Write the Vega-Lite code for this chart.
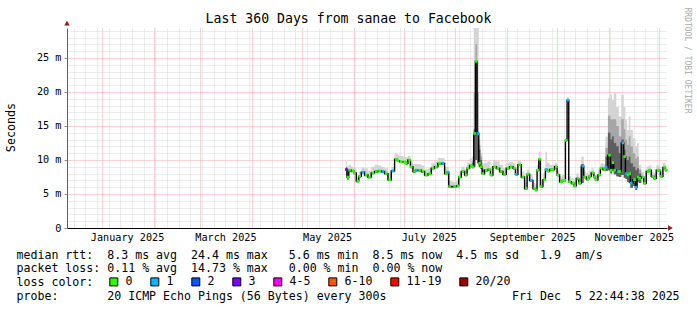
{
  "$schema": "https://vega.github.io/schema/vega-lite/v6.json",
  "width": 600,
  "height": 200,
  "autosize": "none",
  "padding": {"left": 67, "top": 28, "right": 30, "bottom": 82},
  "background": "white",
  "config": {"view": {"stroke": null}},
  "title": {"text": "Last 360 Days from sanae to Facebook", "font": "DejaVu Sans Mono", "fontSize": 13.2, "fontWeight": "normal", "color": "#000000", "anchor": "middle", "frame": "group", "dx": -18.5, "baseline": "alphabetic", "offset": -29},
  "datasets": {
    "ping": [
      {"date":"2025-05-27T12:00:00","median":8.6,"low":7.4,"dark":9.0,"high":9.8,"loss":"3"},
      {"date":"2025-05-28T12:00:00","median":7.5,"low":7.1,"dark":7.9,"high":9.0,"loss":"0"},
      {"date":"2025-05-29T12:00:00","median":8.5,"low":8.2,"dark":8.5,"high":9.3,"loss":"0"},
      {"date":"2025-05-31T12:00:00","median":8.4,"low":8.2,"dark":8.4,"high":9.0,"loss":"0"},
      {"date":"2025-06-01T12:00:00","median":8.1,"low":7.9,"dark":8.1,"high":8.8,"loss":"0"},
      {"date":"2025-06-03T12:00:00","median":6.9,"low":6.7,"dark":6.9,"high":7.6,"loss":"0"},
      {"date":"2025-06-04T12:00:00","median":7.6,"low":7.4,"dark":7.6,"high":8.3,"loss":"0"},
      {"date":"2025-06-06T12:00:00","median":8.2,"low":8.0,"dark":8.2,"high":8.9,"loss":"1"},
      {"date":"2025-06-08T12:00:00","median":7.8,"low":7.6,"dark":7.8,"high":8.8,"loss":"0"},
      {"date":"2025-06-10T12:00:00","median":7.5,"low":7.3,"dark":7.5,"high":8.4,"loss":"0"},
      {"date":"2025-06-12T12:00:00","median":8.1,"low":7.9,"dark":8.1,"high":9.0,"loss":"0"},
      {"date":"2025-06-14T12:00:00","median":8.3,"low":8.1,"dark":8.3,"high":9.3,"loss":"0"},
      {"date":"2025-06-16T12:00:00","median":8.4,"low":8.2,"dark":8.4,"high":9.2,"loss":"0"},
      {"date":"2025-06-18T12:00:00","median":8.3,"low":8.1,"dark":8.3,"high":9.0,"loss":"1"},
      {"date":"2025-06-20T12:00:00","median":8.0,"low":7.8,"dark":8.0,"high":8.8,"loss":"0"},
      {"date":"2025-06-22T12:00:00","median":7.1,"low":6.9,"dark":7.1,"high":8.0,"loss":"0"},
      {"date":"2025-06-24T12:00:00","median":8.4,"low":8.2,"dark":8.4,"high":9.0,"loss":"1"},
      {"date":"2025-06-26T12:00:00","median":10.1,"low":9.9,"dark":10.1,"high":11.0,"loss":"0"},
      {"date":"2025-06-27T12:00:00","median":9.9,"low":9.7,"dark":9.9,"high":10.8,"loss":"0"},
      {"date":"2025-06-29T12:00:00","median":9.75,"low":9.55,"dark":9.75,"high":10.6,"loss":"0"},
      {"date":"2025-07-01T12:00:00","median":9.75,"low":9.55,"dark":9.75,"high":10.5,"loss":"0"},
      {"date":"2025-07-02T12:00:00","median":9.5,"low":9.3,"dark":9.5,"high":10.4,"loss":"0"},
      {"date":"2025-07-04T12:00:00","median":10.0,"low":9.8,"dark":10.0,"high":10.6,"loss":"0"},
      {"date":"2025-07-05T12:00:00","median":9.0,"low":8.8,"dark":9.0,"high":9.8,"loss":"0"},
      {"date":"2025-07-07T12:00:00","median":8.3,"low":8.1,"dark":8.3,"high":9.4,"loss":"0"},
      {"date":"2025-07-08T12:00:00","median":8.5,"low":8.3,"dark":8.5,"high":9.4,"loss":"1"},
      {"date":"2025-07-10T12:00:00","median":8.5,"low":8.3,"dark":8.5,"high":9.4,"loss":"0"},
      {"date":"2025-07-12T12:00:00","median":8.3,"low":8.1,"dark":8.3,"high":9.2,"loss":"0"},
      {"date":"2025-07-14T12:00:00","median":7.8,"low":7.6,"dark":7.8,"high":8.6,"loss":"0"},
      {"date":"2025-07-16T12:00:00","median":8.0,"low":7.8,"dark":8.0,"high":8.8,"loss":"0"},
      {"date":"2025-07-18T12:00:00","median":8.8,"low":8.6,"dark":8.8,"high":9.5,"loss":"0"},
      {"date":"2025-07-20T12:00:00","median":9.0,"low":8.8,"dark":9.0,"high":9.8,"loss":"0"},
      {"date":"2025-07-22T12:00:00","median":9.5,"low":9.3,"dark":9.5,"high":10.3,"loss":"0"},
      {"date":"2025-07-24T12:00:00","median":9.5,"low":9.3,"dark":9.5,"high":10.3,"loss":"1"},
      {"date":"2025-07-26T12:00:00","median":8.0,"low":7.8,"dark":8.0,"high":9.0,"loss":"0"},
      {"date":"2025-07-27T12:00:00","median":8.2,"low":8.0,"dark":8.2,"high":9.0,"loss":"1"},
      {"date":"2025-07-28T12:00:00","median":6.1,"low":5.9,"dark":6.1,"high":6.9,"loss":"0"},
      {"date":"2025-07-31T12:00:00","median":6.1,"low":5.9,"dark":6.1,"high":6.8,"loss":"0"},
      {"date":"2025-08-02T12:00:00","median":6.2,"low":6.0,"dark":6.2,"high":7.0,"loss":"0"},
      {"date":"2025-08-03T12:00:00","median":7.5,"low":7.3,"dark":7.5,"high":8.2,"loss":"0"},
      {"date":"2025-08-05T12:00:00","median":8.3,"low":8.1,"dark":8.3,"high":9.0,"loss":"0"},
      {"date":"2025-08-07T12:00:00","median":7.8,"low":7.6,"dark":7.8,"high":8.6,"loss":"0"},
      {"date":"2025-08-08T12:00:00","median":8.8,"low":8.6,"dark":8.8,"high":9.6,"loss":"0"},
      {"date":"2025-08-10T12:00:00","median":9.2,"low":9.0,"dark":9.2,"high":10.2,"loss":"0"},
      {"date":"2025-08-11T12:00:00","median":9.0,"low":8.8,"dark":9.6,"high":10.5,"loss":"0"},
      {"date":"2025-08-12T12:00:00","median":13.9,"low":9.0,"dark":14.5,"high":29.4,"loss":"0"},
      {"date":"2025-08-13T12:00:00","median":24.5,"low":10.0,"dark":24.5,"high":29.4,"loss":"0"},
      {"date":"2025-08-14T12:00:00","median":13.9,"low":9.5,"dark":14.2,"high":29.4,"loss":"1"},
      {"date":"2025-08-15T12:00:00","median":9.5,"low":9.0,"dark":11.5,"high":13.0,"loss":"0"},
      {"date":"2025-08-16T12:00:00","median":9.0,"low":8.7,"dark":10.0,"high":11.0,"loss":"0"},
      {"date":"2025-08-17T12:00:00","median":8.0,"low":7.8,"dark":8.6,"high":9.5,"loss":"0"},
      {"date":"2025-08-19T12:00:00","median":8.5,"low":8.3,"dark":8.5,"high":9.6,"loss":"0"},
      {"date":"2025-08-21T12:00:00","median":8.6,"low":8.4,"dark":8.6,"high":9.8,"loss":"0"},
      {"date":"2025-08-22T12:00:00","median":7.8,"low":7.6,"dark":7.8,"high":9.0,"loss":"0"},
      {"date":"2025-08-24T12:00:00","median":9.0,"low":8.8,"dark":9.0,"high":10.0,"loss":"0"},
      {"date":"2025-08-26T12:00:00","median":8.8,"low":8.6,"dark":8.8,"high":9.8,"loss":"0"},
      {"date":"2025-08-28T12:00:00","median":8.3,"low":8.1,"dark":8.3,"high":9.3,"loss":"0"},
      {"date":"2025-08-30T12:00:00","median":7.9,"low":7.7,"dark":7.9,"high":8.8,"loss":"0"},
      {"date":"2025-09-01T12:00:00","median":8.8,"low":8.6,"dark":8.8,"high":9.6,"loss":"0"},
      {"date":"2025-09-03T12:00:00","median":9.0,"low":8.8,"dark":9.0,"high":9.7,"loss":"0"},
      {"date":"2025-09-05T12:00:00","median":8.8,"low":8.6,"dark":8.8,"high":9.5,"loss":"0"},
      {"date":"2025-09-06T12:00:00","median":7.9,"low":7.7,"dark":7.9,"high":8.8,"loss":"1"},
      {"date":"2025-09-08T12:00:00","median":9.3,"low":9.1,"dark":9.3,"high":9.9,"loss":"0"},
      {"date":"2025-09-10T12:00:00","median":7.5,"low":7.3,"dark":7.5,"high":8.3,"loss":"0"},
      {"date":"2025-09-12T12:00:00","median":5.8,"low":5.6,"dark":5.8,"high":6.8,"loss":"0"},
      {"date":"2025-09-13T12:00:00","median":7.9,"low":7.7,"dark":7.9,"high":8.6,"loss":"0"},
      {"date":"2025-09-15T12:00:00","median":7.0,"low":6.8,"dark":7.0,"high":7.9,"loss":"1"},
      {"date":"2025-09-17T12:00:00","median":5.8,"low":5.6,"dark":5.8,"high":6.6,"loss":"0"},
      {"date":"2025-09-18T12:00:00","median":5.6,"low":5.4,"dark":5.6,"high":6.4,"loss":"0"},
      {"date":"2025-09-19T12:00:00","median":8.5,"low":8.3,"dark":8.5,"high":9.2,"loss":"0"},
      {"date":"2025-09-20T12:00:00","median":10.1,"low":9.9,"dark":10.1,"high":11.2,"loss":"0"},
      {"date":"2025-09-21T12:00:00","median":6.1,"low":5.9,"dark":6.1,"high":7.0,"loss":"0"},
      {"date":"2025-09-23T12:00:00","median":7.1,"low":6.9,"dark":7.1,"high":8.0,"loss":"0"},
      {"date":"2025-09-24T12:00:00","median":8.6,"low":8.4,"dark":8.6,"high":11.2,"loss":"1"},
      {"date":"2025-09-25T12:00:00","median":8.4,"low":8.2,"dark":8.4,"high":9.6,"loss":"0"},
      {"date":"2025-09-27T12:00:00","median":8.6,"low":8.4,"dark":8.6,"high":9.3,"loss":"0"},
      {"date":"2025-09-28T12:00:00","median":8.6,"low":8.4,"dark":8.6,"high":9.3,"loss":"0"},
      {"date":"2025-09-30T12:00:00","median":9.0,"low":8.8,"dark":9.0,"high":9.6,"loss":"0"},
      {"date":"2025-10-01T12:00:00","median":7.8,"low":7.6,"dark":7.8,"high":8.5,"loss":"0"},
      {"date":"2025-10-03T12:00:00","median":6.8,"low":6.6,"dark":6.8,"high":7.6,"loss":"0"},
      {"date":"2025-10-04T12:00:00","median":7.0,"low":6.8,"dark":7.0,"high":7.8,"loss":"0"},
      {"date":"2025-10-05T12:00:00","median":7.0,"low":6.8,"dark":7.0,"high":7.8,"loss":"0"},
      {"date":"2025-10-06T12:00:00","median":12.9,"low":12.7,"dark":12.9,"high":13.2,"loss":"0"},
      {"date":"2025-10-07T12:00:00","median":18.8,"low":18.6,"dark":18.8,"high":19.3,"loss":"1"},
      {"date":"2025-10-08T12:00:00","median":6.8,"low":6.6,"dark":6.8,"high":7.6,"loss":"0"},
      {"date":"2025-10-10T12:00:00","median":6.6,"low":6.4,"dark":6.6,"high":7.3,"loss":"0"},
      {"date":"2025-10-11T12:00:00","median":6.2,"low":6.0,"dark":6.2,"high":7.0,"loss":"0"},
      {"date":"2025-10-13T12:00:00","median":7.3,"low":7.1,"dark":7.3,"high":8.0,"loss":"0"},
      {"date":"2025-10-14T12:00:00","median":6.6,"low":6.4,"dark":6.6,"high":7.3,"loss":"0"},
      {"date":"2025-10-16T12:00:00","median":9.1,"low":6.6,"dark":9.4,"high":10.5,"loss":"1"},
      {"date":"2025-10-17T12:00:00","median":7.5,"low":7.3,"dark":7.5,"high":8.3,"loss":"0"},
      {"date":"2025-10-19T12:00:00","median":7.2,"low":7.0,"dark":7.2,"high":8.0,"loss":"0"},
      {"date":"2025-10-20T12:00:00","median":7.6,"low":7.4,"dark":7.6,"high":8.4,"loss":"0"},
      {"date":"2025-10-22T12:00:00","median":8.1,"low":7.9,"dark":8.1,"high":8.8,"loss":"0"},
      {"date":"2025-10-23T12:00:00","median":7.5,"low":7.3,"dark":7.5,"high":8.2,"loss":"0"},
      {"date":"2025-10-24T12:00:00","median":7.1,"low":6.9,"dark":7.1,"high":7.8,"loss":"0"},
      {"date":"2025-10-26T12:00:00","median":7.8,"low":7.6,"dark":7.8,"high":8.6,"loss":"0"},
      {"date":"2025-10-27T12:00:00","median":8.8,"low":8.6,"dark":8.8,"high":9.5,"loss":"0"},
      {"date":"2025-10-29T12:00:00","median":8.6,"low":8.4,"dark":8.6,"high":9.4,"loss":"0"},
      {"date":"2025-10-30T12:00:00","median":8.9,"low":8.4,"dark":10.5,"high":13.4,"loss":"1"},
      {"date":"2025-11-01T12:00:00","median":10.7,"low":8.5,"dark":14.0,"high":19.1,"loss":"0"},
      {"date":"2025-11-02T12:00:00","median":8.5,"low":8.0,"dark":13.0,"high":19.6,"loss":"0"},
      {"date":"2025-11-03T12:00:00","median":9.6,"low":8.5,"dark":13.5,"high":18.8,"loss":"0"},
      {"date":"2025-11-04T12:00:00","median":8.5,"low":7.9,"dark":12.5,"high":19.8,"loss":"0"},
      {"date":"2025-11-06T12:00:00","median":8.3,"low":7.6,"dark":12.0,"high":17.8,"loss":"1"},
      {"date":"2025-11-07T12:00:00","median":8.3,"low":7.5,"dark":11.0,"high":16.4,"loss":"0"},
      {"date":"2025-11-09T12:00:00","median":12.5,"low":7.8,"dark":13.0,"high":19.6,"loss":"1"},
      {"date":"2025-11-10T12:00:00","median":10.5,"low":7.4,"dark":11.5,"high":17.8,"loss":"0"},
      {"date":"2025-11-11T12:00:00","median":8.0,"low":7.2,"dark":10.5,"high":15.9,"loss":"1"},
      {"date":"2025-11-12T12:00:00","median":7.8,"low":6.8,"dark":10.0,"high":14.4,"loss":"0"},
      {"date":"2025-11-13T12:00:00","median":8.0,"low":6.6,"dark":10.5,"high":16.4,"loss":"0"},
      {"date":"2025-11-14T12:00:00","median":6.6,"low":5.9,"dark":9.5,"high":14.4,"loss":"1"},
      {"date":"2025-11-16T12:00:00","median":7.1,"low":6.2,"dark":9.0,"high":13.2,"loss":"0"},
      {"date":"2025-11-17T12:00:00","median":6.0,"low":5.6,"dark":8.5,"high":12.0,"loss":"1"},
      {"date":"2025-11-18T12:00:00","median":7.5,"low":6.8,"dark":8.8,"high":12.5,"loss":"0"},
      {"date":"2025-11-19T12:00:00","median":7.3,"low":6.6,"dark":8.0,"high":9.3,"loss":"0"},
      {"date":"2025-11-21T12:00:00","median":7.5,"low":7.3,"dark":7.5,"high":8.2,"loss":"0"},
      {"date":"2025-11-22T12:00:00","median":6.6,"low":6.4,"dark":6.6,"high":7.3,"loss":"0"},
      {"date":"2025-11-24T12:00:00","median":8.3,"low":8.1,"dark":8.3,"high":9.0,"loss":"0"},
      {"date":"2025-11-25T12:00:00","median":8.5,"low":8.3,"dark":8.5,"high":9.2,"loss":"0"},
      {"date":"2025-11-27T12:00:00","median":7.6,"low":7.4,"dark":7.6,"high":8.3,"loss":"0"},
      {"date":"2025-11-28T12:00:00","median":7.3,"low":7.1,"dark":7.3,"high":8.1,"loss":"0"},
      {"date":"2025-11-30T12:00:00","median":8.5,"low":8.3,"dark":8.5,"high":9.2,"loss":"0"},
      {"date":"2025-12-01T12:00:00","median":8.5,"low":8.3,"dark":8.5,"high":9.2,"loss":"0"},
      {"date":"2025-12-02T12:00:00","median":7.6,"low":7.4,"dark":7.6,"high":8.4,"loss":"0"},
      {"date":"2025-12-04T12:00:00","median":8.9,"low":8.7,"dark":8.9,"high":9.6,"loss":"0"},
      {"date":"2025-12-05T12:00:00","median":8.5,"low":8.3,"dark":8.5,"high":9.3,"loss":"0"}
    ],
    "midsmoke": [
      {"date":"2025-08-10T12:00:00","low":9.0,"mid":9.2,"seg":"a"},
      {"date":"2025-08-11T12:00:00","low":8.8,"mid":10.0,"seg":"a"},
      {"date":"2025-08-12T12:00:00","low":9.0,"mid":20.0,"seg":"a"},
      {"date":"2025-08-13T12:00:00","low":10.0,"mid":27.0,"seg":"a"},
      {"date":"2025-08-14T12:00:00","low":9.5,"mid":20.0,"seg":"a"},
      {"date":"2025-08-15T12:00:00","low":9.0,"mid":12.2,"seg":"a"},
      {"date":"2025-08-16T12:00:00","low":8.7,"mid":10.5,"seg":"a"},
      {"date":"2025-08-17T12:00:00","low":7.8,"mid":8.0,"seg":"a"},
      {"date":"2025-10-29T12:00:00","low":8.4,"mid":8.6,"seg":"b"},
      {"date":"2025-10-30T12:00:00","low":8.4,"mid":11.8,"seg":"b"},
      {"date":"2025-11-01T12:00:00","low":8.5,"mid":16.5,"seg":"b"},
      {"date":"2025-11-02T12:00:00","low":8.0,"mid":16.0,"seg":"b"},
      {"date":"2025-11-03T12:00:00","low":8.5,"mid":16.0,"seg":"b"},
      {"date":"2025-11-04T12:00:00","low":7.9,"mid":16.0,"seg":"b"},
      {"date":"2025-11-06T12:00:00","low":7.6,"mid":15.0,"seg":"b"},
      {"date":"2025-11-07T12:00:00","low":7.5,"mid":13.5,"seg":"b"},
      {"date":"2025-11-09T12:00:00","low":7.8,"mid":16.0,"seg":"b"},
      {"date":"2025-11-10T12:00:00","low":7.4,"mid":14.5,"seg":"b"},
      {"date":"2025-11-11T12:00:00","low":7.2,"mid":13.0,"seg":"b"},
      {"date":"2025-11-12T12:00:00","low":6.8,"mid":12.2,"seg":"b"},
      {"date":"2025-11-13T12:00:00","low":6.6,"mid":13.5,"seg":"b"},
      {"date":"2025-11-14T12:00:00","low":5.9,"mid":12.0,"seg":"b"},
      {"date":"2025-11-16T12:00:00","low":6.2,"mid":11.0,"seg":"b"},
      {"date":"2025-11-17T12:00:00","low":5.6,"mid":10.2,"seg":"b"},
      {"date":"2025-11-18T12:00:00","low":6.8,"mid":10.5,"seg":"b"},
      {"date":"2025-11-19T12:00:00","low":6.6,"mid":8.6,"seg":"b"},
      {"date":"2025-11-21T12:00:00","low":7.3,"mid":7.5,"seg":"b"}
    ]
  },
  "layer": [
    {
      "data": {"name": "ping"},
      "mark": {"type": "area", "interpolate": "step", "color": "#d4d4d4"},
      "encoding": {
        "x": {"field": "date", "type": "temporal",
              "scale": {"domain": [{"year": 2024, "month": 12, "date": 10, "hours": 22, "minutes": 44, "seconds": 38}, {"year": 2025, "month": 12, "date": 5, "hours": 22, "minutes": 44, "seconds": 38}]},
              "axis": {"orient": "bottom", "grid": true, "gridColor": "#d8d8d8", "gridDash": [1, 1], "tickCount": "week", "labels": false, "ticks": false, "domain": false, "title": null}},
        "y": {"field": "low", "type": "quantitative",
              "scale": {"domain": [0, 29.4], "nice": false, "zero": false},
              "axis": {"orient": "left", "values": [1,2,3,4,6,7,8,9,11,12,13,14,16,17,18,19,21,22,23,24,26,27,28,29], "grid": true, "gridColor": "#d8d8d8", "gridDash": [1, 1], "labels": false, "ticks": false, "domain": false, "title": null}},
        "y2": {"field": "high"}
      }
    },
    {
      "data": {"name": "midsmoke"},
      "mark": {"type": "area", "interpolate": "step", "color": "#a6a6a6"},
      "encoding": {
        "x": {"field": "date", "type": "temporal", "axis": null,
              "scale": {"domain": [{"year": 2024, "month": 12, "date": 10, "hours": 22, "minutes": 44, "seconds": 38}, {"year": 2025, "month": 12, "date": 5, "hours": 22, "minutes": 44, "seconds": 38}]}},
        "y": {"field": "low", "type": "quantitative", "axis": null, "scale": {"domain": [0, 29.4], "nice": false, "zero": false}},
        "y2": {"field": "mid"},
        "detail": {"field": "seg"}
      }
    },
    {
      "data": {"name": "ping"},
      "mark": {"type": "area", "interpolate": "step", "color": "#5e5e5e"},
      "encoding": {
        "x": {"field": "date", "type": "temporal",
              "scale": {"domain": [{"year": 2024, "month": 12, "date": 10, "hours": 22, "minutes": 44, "seconds": 38}, {"year": 2025, "month": 12, "date": 5, "hours": 22, "minutes": 44, "seconds": 38}]},
              "axis": {"orient": "bottom", "grid": true, "gridColor": "#f2a4a4", "gridDash": [1, 1], "tickCount": "month", "labels": false, "ticks": false, "domain": false, "title": null}},
        "y": {"field": "low", "type": "quantitative",
              "scale": {"domain": [0, 29.4], "nice": false, "zero": false},
              "axis": {"orient": "left", "values": [0, 5, 10, 15, 20, 25], "grid": true, "gridColor": "#f2a4a4", "gridDash": [1, 1],
                       "labelExpr": "datum.value == 0 ? '0\u00a0\u00a0' : datum.value + ' m'",
                       "labelFont": "DejaVu Sans Mono", "labelFontSize": 10.2, "labelColor": "#000000", "labelPadding": 3,
                       "ticks": true, "tickSize": 3, "tickColor": "#909090",
                       "domain": true, "domainColor": "#606060", "domainWidth": 1,
                       "title": "Seconds", "titleFont": "DejaVu Sans Mono", "titleFontSize": 11.7, "titleFontWeight": "normal", "titleColor": "#000000",
                       "titleX": -56.5, "titleY": 99, "titleAngle": -90, "titleAlign": "center", "titleBaseline": "middle"}},
        "y2": {"field": "dark"}
      }
    },
    {
      "data": {"name": "ping"},
      "mark": {"type": "line", "interpolate": "step", "color": "#000000", "strokeWidth": 1.4},
      "encoding": {
        "x": {"field": "date", "type": "temporal",
              "scale": {"domain": [{"year": 2024, "month": 12, "date": 10, "hours": 22, "minutes": 44, "seconds": 38}, {"year": 2025, "month": 12, "date": 5, "hours": 22, "minutes": 44, "seconds": 38}]},
              "axis": {"orient": "bottom", "grid": false, "ticks": false,
                       "values": [{"year": 2025, "month": 1, "date": 16}, {"year": 2025, "month": 3, "date": 16}, {"year": 2025, "month": 5, "date": 16}, {"year": 2025, "month": 7, "date": 16}, {"year": 2025, "month": 9, "date": 16}, {"year": 2025, "month": 11, "date": 16}],
                       "format": "%B %Y", "labelFont": "DejaVu Sans Mono", "labelFontSize": 10.2, "labelColor": "#000000", "labelPadding": 4, "labelFlush": false, "labelOverlap": false, "labelBound": false,
                       "domain": true, "domainColor": "#000000", "domainWidth": 1,
                       "title": [
                         "median rtt:\u00a0\u00a08.3 ms avg\u00a0\u00a024.4 ms max\u00a0\u00a0\u00a05.6 ms min\u00a0\u00a08.5 ms now\u00a0\u00a04.5 ms sd\u00a0\u00a0\u00a01.9\u00a0\u00a0am/s",
                         "packet loss: 0.11 % avg\u00a0\u00a014.73 % max\u00a0\u00a0\u00a00.00 % min\u00a0\u00a00.00 % now",
                         "loss color:",
                         "probe:\u00a0\u00a0\u00a0\u00a0\u00a0\u00a0\u00a020 ICMP Echo Pings (56 Bytes) every 300s\u00a0\u00a0\u00a0\u00a0\u00a0\u00a0\u00a0\u00a0\u00a0\u00a0\u00a0\u00a0\u00a0\u00a0\u00a0\u00a0\u00a0\u00a0Fri Dec\u00a0\u00a05 22:44:38 2025"
                       ],
                       "titleFont": "DejaVu Sans Mono", "titleFontSize": 11.6, "titleFontWeight": "normal", "titleColor": "#000000",
                       "titleX": -51, "titleY": 30, "titleAlign": "left", "titleBaseline": "alphabetic", "titleAnchor": "start", "titleLineHeight": 13.8}},
        "y": {"field": "median", "type": "quantitative",
              "scale": {"domain": [0, 29.4], "nice": false, "zero": false},
              "axis": {"orient": "right", "grid": false, "labels": false, "ticks": false, "domain": false,
                       "title": "RRDTOOL / TOBI OETIKER", "titleFont": "DejaVu Sans Mono", "titleFontSize": 8, "titleFontWeight": "normal", "titleColor": "#aaaaaa",
                       "titleX": 19.5, "titleY": 32, "titleAngle": 90, "titleAlign": "center", "titleBaseline": "middle"}}
      }
    },
    {
      "data": {"name": "ping"},
      "mark": {"type": "point", "shape": "square", "filled": true, "size": 7, "opacity": 1},
      "encoding": {
        "x": {"field": "date", "type": "temporal", "axis": null,
              "scale": {"domain": [{"year": 2024, "month": 12, "date": 10, "hours": 22, "minutes": 44, "seconds": 38}, {"year": 2025, "month": 12, "date": 5, "hours": 22, "minutes": 44, "seconds": 38}]}},
        "y": {"field": "median", "type": "quantitative", "axis": null, "scale": {"domain": [0, 29.4], "nice": false, "zero": false}},
        "color": {"field": "loss", "type": "nominal",
                  "scale": {"domain": ["0", "1", "2", "3", "4-5", "6-10", "11-19", "20/20"],
                            "range": ["#26ff00", "#00b8ff", "#0059ff", "#7e00ff", "#ff00ff", "#ff5500", "#ff0000", "#a00000"]},
                  "legend": {"orient": "none", "legendX": 41, "legendY": 248, "direction": "horizontal", "columns": 8, "title": null, "padding": 0,
                             "symbolType": "square", "symbolSize": 64, "symbolOpacity": 1, "symbolStrokeColor": "#000000", "symbolStrokeWidth": 1,
                             "labelFont": "DejaVu Sans Mono", "labelFontSize": 11.6, "labelColor": "#000000", "labelOffset": 6, "columnPadding": 15,
                             "encode": {"symbols": {"update": {"stroke": {"value": "#000000"}, "strokeWidth": {"value": 1}}}}}}
      }
    },
    {
      "data": {"values": [{"date": "2025-12-08T00:00:00", "v": 0}]},
      "mark": {"type": "point", "shape": "triangle-right", "filled": true, "size": 30, "opacity": 1, "color": "#8b1a1a"},
      "encoding": {
        "x": {"field": "date", "type": "temporal", "axis": null,
              "scale": {"domain": [{"year": 2024, "month": 12, "date": 10, "hours": 22, "minutes": 44, "seconds": 38}, {"year": 2025, "month": 12, "date": 5, "hours": 22, "minutes": 44, "seconds": 38}]}},
        "y": {"field": "v", "type": "quantitative", "axis": null, "scale": {"domain": [0, 29.4], "nice": false, "zero": false}}
      }
    },
    {
      "data": {"values": [{"date": "2024-12-10T22:44:38", "v": 30.1}]},
      "mark": {"type": "point", "shape": "triangle-up", "filled": true, "size": 30, "opacity": 1, "color": "#8b1a1a"},
      "encoding": {
        "x": {"field": "date", "type": "temporal", "axis": null,
              "scale": {"domain": [{"year": 2024, "month": 12, "date": 10, "hours": 22, "minutes": 44, "seconds": 38}, {"year": 2025, "month": 12, "date": 5, "hours": 22, "minutes": 44, "seconds": 38}]}},
        "y": {"field": "v", "type": "quantitative", "axis": null, "scale": {"domain": [0, 29.4], "nice": false, "zero": false}}
      }
    }
  ],
  "resolve": {"axis": {"x": "independent", "y": "independent"}}
}
